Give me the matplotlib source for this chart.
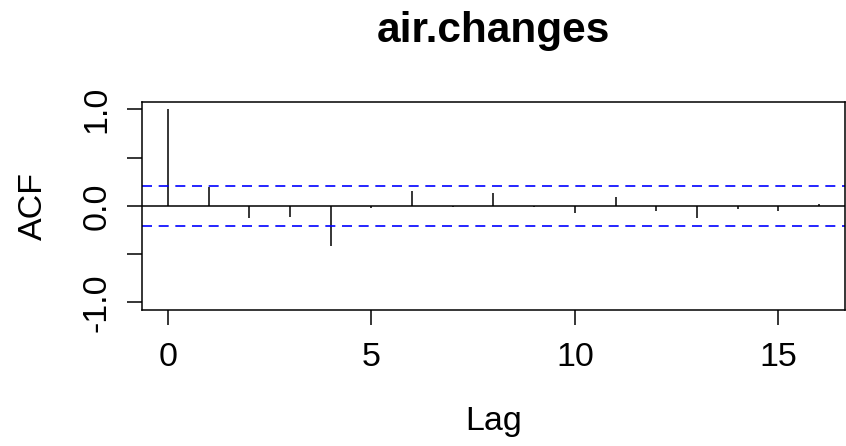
#ACF plot of air.changes
import matplotlib
matplotlib.use("Agg")
import matplotlib.pyplot as plt

plt.rcParams['font.family'] = ['Liberation Sans', 'DejaVu Sans']

#Lags and autocorrelations
lags = [0, 1, 2, 3, 4, 5, 6, 7, 8, 9, 10, 11, 12, 13, 14, 15, 16]
acf = [1.0, 0.2, -0.13, -0.115, -0.42, -0.02, 0.15, -0.015, 0.13,
       -0.01, -0.07, 0.09, -0.05, -0.13, -0.03, -0.05, 0.02]
#Confidence bound
ci = 0.205

fig = plt.figure(figsize=(8.46, 4.46), dpi=100)
ax = fig.add_axes([0.1678, 0.305, 0.831, 0.467])

ax.vlines(lags, 0, acf, color="black", linewidth=1.1)
ax.axhline(0, color="black", linewidth=1.1)
ax.axhline(ci, color="blue", linewidth=1.2, linestyle=(0, (6, 4)))
ax.axhline(-ci, color="blue", linewidth=1.2, linestyle=(0, (6, 4)))

ax.set_xlim(-0.64, 16.64)
ax.set_ylim(-1.08, 1.08)
ax.set_xticks([0, 5, 10, 15])
ax.set_yticks([-1.0, -0.5, 0.0, 0.5, 1.0])
ax.set_yticklabels(["-1.0", "", "0.0", "", "1.0"], rotation=90, va="center")
ax.tick_params(direction="out", length=11, width=1.1, labelsize=24.5)
ax.tick_params(axis="x", pad=12)
ax.tick_params(axis="y", pad=10)
for s in ax.spines.values():
    s.set_linewidth(1.1)

ax.set_xlabel("Lag", fontsize=24.5, labelpad=24)
ax.set_ylabel("ACF", fontsize=24.5, labelpad=24)
ax.set_title("air.changes", fontsize=30.5, fontweight="bold", pad=43)

fig.savefig("out.png", dpi=100)
